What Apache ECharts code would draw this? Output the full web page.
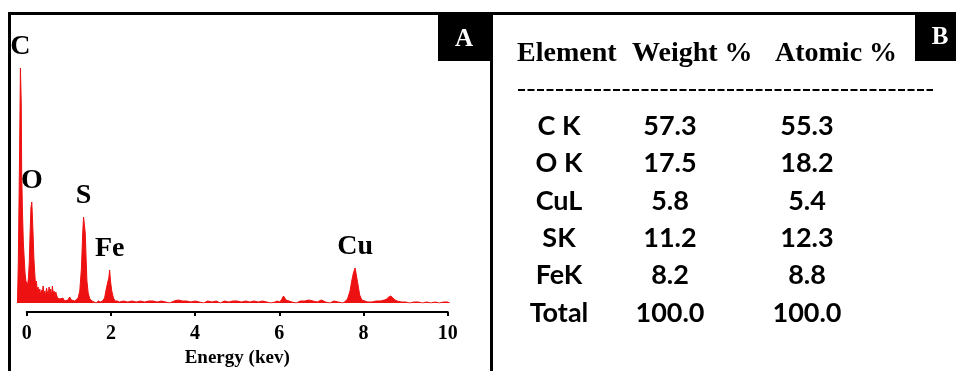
<!DOCTYPE html>
<html><head><meta charset="utf-8">
<script src="https://cdn.jsdelivr.net/npm/echarts@6/dist/echarts.min.js"></script>
<style>html,body{margin:0;padding:0;background:#fff}#c{width:956px;height:371px}</style>
</head><body><div id="c"></div>
<script>
// ---- data ----
const xTicks = [0, 2, 4, 6, 8, 10];
const spectrum = [
  [-0.22,0],[-0.20,40],[-0.17,150],[-0.15,235],[-0.13,200],[-0.12,130],[-0.10,90],[-0.08,60],[-0.06,45],[-0.04,30],
  [-0.02,22],[0.00,20],[0.02,18],[0.04,25],[0.06,40],[0.08,70],[0.10,95],[0.12,101],[0.13,92],[0.15,70],
  [0.17,45],[0.19,30],[0.21,18],[0.23,22],[0.25,12],[0.27,16],[0.29,9],[0.31,14],[0.33,8],[0.35,13],
  [0.37,10],[0.39,17],[0.41,9],[0.43,12],[0.45,7],[0.47,15],[0.49,11],[0.51,8],[0.53,16],[0.55,10],
  [0.57,14],[0.59,7],[0.61,17],[0.63,9],[0.65,12],[0.67,6],[0.69,11],[0.71,8],[0.73,5],[0.76,7],
  [0.79,4],[0.82,3],[0.86,5],[0.90,2],[0.94,4],[0.98,3],[1.02,6],[1.06,3],[1.10,4],[1.14,2],
  [1.18,3],[1.22,5],[1.26,12],[1.30,35],[1.33,70],[1.35,86],[1.37,84],[1.39,70],[1.41,45],[1.43,22],
  [1.46,10],[1.50,4],[1.55,2],[1.60,1],[1.65,0],[1.70,2],[1.75,1],[1.80,2],[1.85,5],[1.88,12],
  [1.92,20],[1.95,25],[1.97,33],[1.99,22],[2.02,12],[2.06,5],[2.10,2],[2.15,2],[2.20,1],[2.30,2],
  [2.40,1],[2.50,2],[2.60,1],[2.70,2],[2.80,1],[2.90,2],[3.00,2],[3.10,1],[3.20,2],[3.30,1],
  [3.40,0],[3.50,2],[3.60,3],[3.70,2],[3.80,2],[3.90,1],[4.00,2],[4.10,1],[4.20,0],[4.30,2],
  [4.40,1],[4.50,2],[4.60,0],[4.70,2],[4.80,1],[4.90,2],[5.00,2],[5.10,1],[5.20,2],[5.30,1],
  [5.40,2],[5.50,1],[5.60,2],[5.70,1],[5.80,0],[5.90,1],[5.95,2],[6.00,1],[6.05,3],[6.10,7],
  [6.13,5],[6.16,3],[6.20,2],[6.30,1],[6.40,0],[6.50,2],[6.60,2],[6.70,3],[6.80,2],[6.90,1],
  [7.00,3],[7.10,1],[7.20,0],[7.30,2],[7.40,1],[7.50,0],[7.55,1],[7.62,4],[7.68,12],[7.72,22],
  [7.76,30],[7.80,35],[7.83,28],[7.87,18],[7.91,8],[7.96,3],[8.00,1],[8.10,1],[8.20,1],[8.30,2],
  [8.40,2],[8.50,3],[8.55,4],[8.60,6],[8.65,7],[8.70,5],[8.75,3],[8.80,2],[8.90,1],[9.00,1],
  [9.10,0],[9.20,1],[9.30,1],[9.40,0],[9.50,1],[9.60,0],[9.70,1],[9.80,0],[9.90,1],[10.00,1],[10.05,0]
];
const peakNames = ['C', 'O', 'S', 'Fe', 'Cu'];
const peakEnergy = [-0.15, 0.12, 1.35, 1.97, 7.80];
const peakCounts = [235, 101, 86, 33, 35];

const tableHeader = ['Element', 'Weight %', 'Atomic %'];
const elements = ['C K', 'O K', 'CuL', 'SK', 'FeK', 'Total'];
const weightPct = ['57.3', '17.5', '5.8', '11.2', '8.2', '100.0'];
const atomicPct = ['55.3', '18.2', '5.4', '12.3', '8.8', '100.0'];

// ---- layout / style ----
const RED = '#ee1111';
const SERIF = '"Liberation Serif", "Times New Roman", serif';
const SANS = 'Lato, "Open Sans", sans-serif';

const graphic = [];
// panel frames
graphic.push({type:'rect', shape:{x:9.5, y:13.5, width:482, height:380}, style:{fill:null, stroke:'#000', lineWidth:3}, z:10});
graphic.push({type:'rect', shape:{x:491.5, y:13.5, width:480, height:380}, style:{fill:null, stroke:'#000', lineWidth:3}, z:10});
// black label boxes
graphic.push({type:'rect', shape:{x:438, y:14, width:53, height:47}, style:{fill:'#000'}, z:11});
graphic.push({type:'text', x:464, y:40, style:{text:'A', fill:'#fff', font:'bold 25px ' + SERIF, align:'center', verticalAlign:'middle'}, z:12});
graphic.push({type:'rect', shape:{x:915, y:14, width:45, height:47}, style:{fill:'#000'}, z:11});
graphic.push({type:'text', x:940, y:38, style:{text:'B', fill:'#fff', font:'bold 25px ' + SERIF, align:'center', verticalAlign:'middle'}, z:12});
// table header
const headerX = [517, 632, 775];
tableHeader.forEach((t, i) => graphic.push({type:'text', x:headerX[i], y:54,
  style:{text:t, fill:'#000', font:'bold 28px ' + SERIF, align:'left', verticalAlign:'middle'}}));
graphic.push({type:'line', shape:{x1:518, y1:90, x2:933, y2:90}, style:{stroke:'#000', lineWidth:2, lineDash:[7, 2.5]}});
// table rows
const colX = [559, 670, 807];
const rowY0 = 126, rowStep = 37.4;
[elements, weightPct, atomicPct].forEach((col, c) => col.forEach((t, r) => graphic.push({
  type:'text', x:colX[c], y:rowY0 + r * rowStep,
  style:{text:t, fill:'#000', font:'bold 27px ' + SANS, align:'center', verticalAlign:'middle'}
})));

const chart = echarts.init(document.getElementById('c'), null, {renderer:'canvas'});
chart.setOption({
  animation: false,
  backgroundColor: '#fff',
  grid: [
    {left:16.2, right:504.1, top:23, bottom:68},
    {left:26.7, right:508.3, top:290, bottom:59}
  ],
  xAxis: [
    {gridIndex:0, type:'value', min:-0.25, max:10.1, show:false},
    {gridIndex:1, type:'value', min:xTicks[0], max:xTicks[xTicks.length-1], interval:xTicks[1]-xTicks[0],
     axisLine:{show:true, onZero:false, lineStyle:{color:'#000', width:2}},
     axisTick:{show:true, length:4, lineStyle:{color:'#000', width:2}},
     splitLine:{show:false},
     axisLabel:{color:'#000', fontFamily:SERIF, fontWeight:'bold', fontSize:20, margin:12},
     name:'Energy (kev)', nameLocation:'middle', nameGap:37,
     nameTextStyle:{color:'#000', fontFamily:SERIF, fontWeight:'bold', fontSize:19}}
  ],
  yAxis: [
    {gridIndex:0, type:'value', min:0, max:280, show:false},
    {gridIndex:1, type:'value', show:false}
  ],
  series: [{
    type:'line', xAxisIndex:0, yAxisIndex:0, data:spectrum,
    showSymbol:false, symbol:'none', smooth:false,
    lineStyle:{color:RED, width:1}, areaStyle:{color:RED, opacity:1},
    markPoint:{
      symbol:'circle', symbolSize:0, silent:true,
      label:{show:true, position:'top', distance:7, color:'#000', fontFamily:SERIF, fontWeight:'bold', fontSize:28,
        formatter:p => p.name},
      data: peakNames.map((n, i) => ({name:n, coord:[peakEnergy[i], peakCounts[i]]}))
    }
  }],
  graphic: graphic
});
</script></body></html>
